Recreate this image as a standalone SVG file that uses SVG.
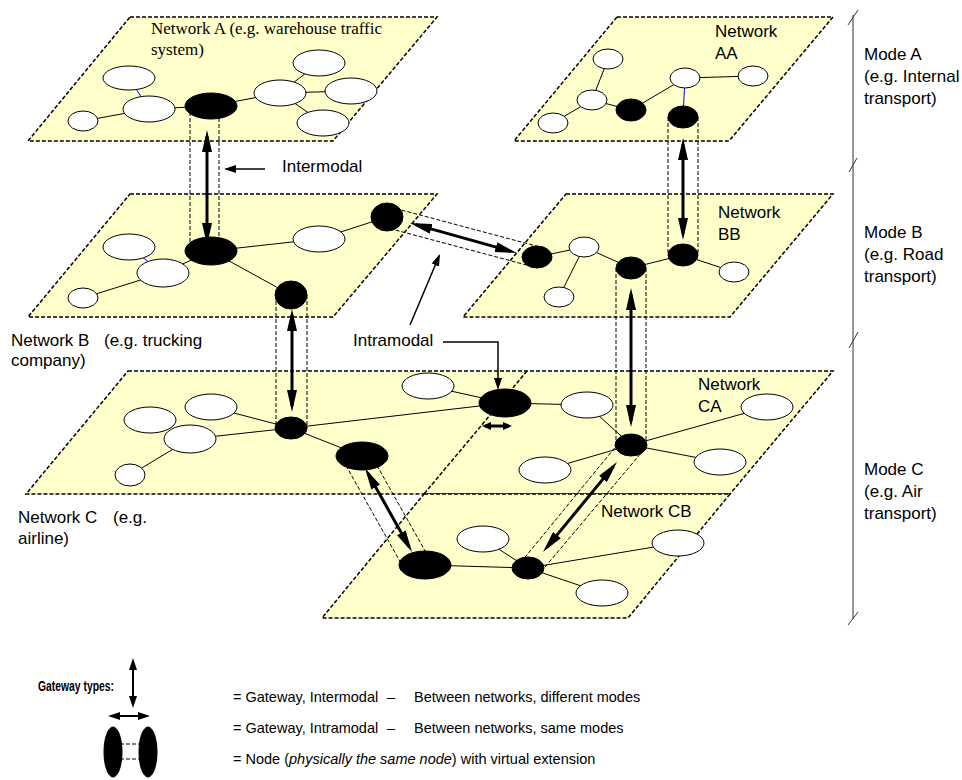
<svg xmlns="http://www.w3.org/2000/svg" width="962" height="780" viewBox="0 0 962 780">
<style>
.plane{fill:#ffffcc;stroke:#000;stroke-width:1.5;stroke-dasharray:4 2}
.dash{fill:none;stroke:#000;stroke-width:1.5;stroke-dasharray:4 2}
.edge{stroke:#000;stroke-width:1;fill:none}
.blue{stroke:#0000ff;stroke-width:1}
.wn{fill:#fff;stroke:#000;stroke-width:1}
.bn{fill:#000;stroke:#000;stroke-width:1}
.tube{stroke:#000;stroke-width:1;stroke-dasharray:4 2;fill:none}
.gw{stroke:#000;stroke-width:3;fill:none;marker-start:url(#h);marker-end:url(#h)}
.gws{stroke:#000;stroke-width:3;fill:none;marker-start:url(#hs);marker-end:url(#hs)}
.gwl{stroke:#000;stroke-width:2;fill:none;marker-start:url(#hl);marker-end:url(#hl)}
.ptr{stroke:#000;stroke-width:1.5;fill:none;marker-end:url(#t)}
.brk{stroke:#333;stroke-width:1;fill:none}
.t{font-family:"Liberation Sans",Arial,sans-serif;font-size:17px;fill:#000}
.s{font-family:"Liberation Serif","Times New Roman",serif;font-size:17px;fill:#000}
.lg{font-family:"Liberation Sans",Arial,sans-serif;font-size:14.5px;fill:#000}
.lgb{font-family:"Liberation Sans",Arial,sans-serif;font-size:15px;font-weight:bold;fill:#000}
</style>
<defs>
<marker id="h" viewBox="0 0 22 10" refX="16" refY="5" markerWidth="22" markerHeight="10" markerUnits="userSpaceOnUse" orient="auto-start-reverse"><path d="M0,0L22,5L0,10z" fill="#000"/></marker>
<marker id="hs" viewBox="0 0 9 8" refX="6" refY="4" markerWidth="9" markerHeight="8" markerUnits="userSpaceOnUse" orient="auto-start-reverse"><path d="M0,0L9,4L0,8z" fill="#000"/></marker>
<marker id="hl" viewBox="0 0 12 8" refX="9" refY="4" markerWidth="12" markerHeight="8" markerUnits="userSpaceOnUse" orient="auto-start-reverse"><path d="M0,0L12,4L0,8z" fill="#000"/></marker>
<marker id="t" viewBox="0 0 12 8" refX="10" refY="4" markerWidth="12" markerHeight="8" markerUnits="userSpaceOnUse" orient="auto"><path d="M0,0L12,4L0,8z" fill="#000"/></marker>
</defs>

<g id="planes">
<polygon id="plane-A" class="plane" points="130,17 437,17 333,141 28,141"/>
<polygon id="plane-AA" class="plane" points="617,17 833,17 729,141 514,141"/>
<polygon id="plane-B" class="plane" points="130,194 437,194 333,317 28,317"/>
<polygon id="plane-BB" class="plane" points="566,194 833,194 730,317 463,317"/>
<polygon id="plane-C" class="plane" points="128,371 833,371 730,494 26,494"/>
<polygon id="plane-CB" class="plane" points="424,494 730,494 628,618 322,618"/>
<line class="dash" x1="527" y1="371" x2="424" y2="494"/>
</g>

<g id="bracket">
<line class="brk" x1="853" y1="15" x2="853" y2="619"/>
<line class="brk" x1="848" y1="25" x2="858" y2="10"/>
<line class="brk" x1="849" y1="172" x2="857" y2="158"/>
<line class="brk" x1="849" y1="348" x2="858" y2="332"/>
<line class="brk" x1="848" y1="625" x2="858" y2="612"/>
</g>

<g id="connectors">
<line class="edge" x1="83" y1="121" x2="149" y2="109"/>
<line class="edge" x1="149" y1="109" x2="211" y2="106"/>
<line class="edge" x1="211" y1="106" x2="280" y2="93"/>
<line class="edge" x1="280" y1="93" x2="319" y2="63"/>
<line class="edge" x1="280" y1="93" x2="351" y2="91"/>
<line class="edge" x1="280" y1="93" x2="323" y2="123"/>
<line class="blue" x1="129" y1="78" x2="149" y2="109"/>
<line class="edge" x1="608" y1="59" x2="592" y2="100"/>
<line class="edge" x1="592" y1="100" x2="553" y2="123"/>
<line class="edge" x1="592" y1="100" x2="631" y2="110"/>
<line class="edge" x1="631" y1="110" x2="685" y2="78"/>
<line class="edge" x1="685" y1="78" x2="753" y2="76"/>
<line class="blue" x1="685" y1="78" x2="683" y2="117"/>
<line class="edge" x1="83" y1="298" x2="163" y2="273"/>
<line class="blue" x1="129" y1="247" x2="163" y2="273"/>
<line class="edge" x1="163" y1="273" x2="211" y2="251"/>
<line class="edge" x1="211" y1="251" x2="319" y2="239"/>
<line class="edge" x1="319" y1="239" x2="387" y2="217"/>
<line class="edge" x1="211" y1="251" x2="291" y2="295"/>
<line class="edge" x1="537" y1="257" x2="584" y2="247"/>
<line class="edge" x1="584" y1="247" x2="559" y2="297"/>
<line class="edge" x1="584" y1="247" x2="631" y2="268"/>
<line class="edge" x1="631" y1="268" x2="683" y2="255"/>
<line class="edge" x1="683" y1="255" x2="734" y2="272"/>
<line class="edge" x1="130" y1="475" x2="190" y2="439"/>
<line class="edge" x1="190" y1="439" x2="291" y2="428"/>
<line class="edge" x1="211" y1="407" x2="291" y2="428"/>
<line class="edge" x1="291" y1="428" x2="362" y2="456"/>
<line class="edge" x1="291" y1="428" x2="505" y2="403"/>
<line class="edge" x1="428" y1="386" x2="505" y2="403"/>
<line class="edge" x1="505" y1="403" x2="587" y2="405"/>
<line class="edge" x1="587" y1="405" x2="631" y2="445"/>
<line class="edge" x1="631" y1="445" x2="767" y2="407"/>
<line class="edge" x1="631" y1="445" x2="545" y2="470"/>
<line class="edge" x1="631" y1="445" x2="720" y2="462"/>
<line class="edge" x1="425" y1="565" x2="528" y2="568"/>
<line class="edge" x1="483" y1="539" x2="528" y2="568"/>
<line class="edge" x1="528" y1="568" x2="678" y2="543"/>
<line class="edge" x1="528" y1="568" x2="602" y2="593"/>

<line class="tube" x1="190" y1="106" x2="190" y2="251"/>
<line class="tube" x1="219" y1="106" x2="219" y2="251"/>
<line class="tube" x1="276" y1="295" x2="276" y2="428"/>
<line class="tube" x1="307" y1="295" x2="307" y2="428"/>
<line class="tube" x1="668" y1="117" x2="668" y2="255"/>
<line class="tube" x1="698" y1="117" x2="698" y2="255"/>
<line class="tube" x1="616" y1="268" x2="616" y2="445"/>
<line class="tube" x1="646" y1="268" x2="646" y2="445"/>
<line class="tube" x1="390" y1="207" x2="540" y2="247"/>
<line class="tube" x1="384" y1="227" x2="534" y2="267"/>
<line class="tube" x1="340" y1="455" x2="402" y2="565"/>
<line class="tube" x1="371" y1="455" x2="433" y2="565"/>
<line class="tube" x1="517" y1="567" x2="617" y2="445"/>
<line class="tube" x1="545" y1="567" x2="642" y2="452"/>

<line class="gw" x1="207" y1="136" x2="207" y2="239"/>
<line class="gw" x1="292" y1="315" x2="292" y2="406"/>
<line class="gw" x1="683" y1="144" x2="683" y2="234"/>
<line class="gw" x1="631" y1="294" x2="631" y2="421"/>
<line class="gw" x1="415.8" y1="224.6" x2="511.2" y2="251.4"/>
<line class="gw" x1="367.9" y1="473.2" x2="409.1" y2="546.8"/>
<line class="gw" x1="546.8" y1="547.4" x2="613.2" y2="466.6"/>
<line class="gws" x1="485" y1="426" x2="509" y2="426"/>

<line class="ptr" x1="265" y1="169" x2="226" y2="169"/>
<polyline class="ptr" points="443,342 498,342 498,388"/>
<line class="ptr" x1="410" y1="325" x2="439.2" y2="255.8"/>
</g>

<g id="node-A1"><ellipse class="wn" cx="129" cy="78" rx="26" ry="12"/></g>
<g id="node-A2"><ellipse class="wn" cx="149" cy="109" rx="26" ry="13"/></g>
<g id="node-A3"><ellipse class="wn" cx="83" cy="121" rx="15" ry="10"/></g>
<g id="node-A4"><ellipse class="bn" cx="211" cy="106" rx="26" ry="13"/></g>
<g id="node-A5"><ellipse class="wn" cx="280" cy="93" rx="26" ry="13"/></g>
<g id="node-A6"><ellipse class="wn" cx="319" cy="63" rx="26" ry="13"/></g>
<g id="node-A7"><ellipse class="wn" cx="351" cy="91" rx="26" ry="13"/></g>
<g id="node-A8"><ellipse class="wn" cx="323" cy="123" rx="26" ry="13"/></g>

<g id="node-AA1"><ellipse class="wn" cx="608" cy="59" rx="15" ry="10"/></g>
<g id="node-AA2"><ellipse class="wn" cx="592" cy="100" rx="15" ry="10"/></g>
<g id="node-AA3"><ellipse class="wn" cx="553" cy="123" rx="15" ry="10"/></g>
<g id="node-AA4"><ellipse class="bn" cx="631" cy="110" rx="15" ry="11"/></g>
<g id="node-AA5"><ellipse class="wn" cx="685" cy="78" rx="15" ry="10"/></g>
<g id="node-AA6"><ellipse class="wn" cx="753" cy="76" rx="15" ry="10"/></g>
<g id="node-AA7"><ellipse class="bn" cx="683" cy="117" rx="15" ry="11"/></g>

<g id="node-B1"><ellipse class="wn" cx="129" cy="247" rx="26" ry="13"/></g>
<g id="node-B2"><ellipse class="wn" cx="163" cy="273" rx="26" ry="14"/></g>
<g id="node-B3"><ellipse class="wn" cx="83" cy="298" rx="15" ry="10"/></g>
<g id="node-B4"><ellipse class="bn" cx="211" cy="251" rx="26" ry="14"/></g>
<g id="node-B5"><ellipse class="wn" cx="319" cy="239" rx="26" ry="13"/></g>
<g id="node-B6"><ellipse class="bn" cx="387" cy="217" rx="16" ry="14"/></g>
<g id="node-B7"><ellipse class="bn" cx="291" cy="295" rx="16" ry="14"/></g>

<g id="node-BB1"><ellipse class="bn" cx="537" cy="257" rx="15" ry="11"/></g>
<g id="node-BB2"><ellipse class="wn" cx="584" cy="247" rx="15" ry="10"/></g>
<g id="node-BB3"><ellipse class="wn" cx="559" cy="297" rx="15" ry="10"/></g>
<g id="node-BB4"><ellipse class="bn" cx="631" cy="268" rx="15" ry="11"/></g>
<g id="node-BB5"><ellipse class="bn" cx="683" cy="255" rx="15" ry="11"/></g>
<g id="node-BB6"><ellipse class="wn" cx="734" cy="272" rx="15" ry="10"/></g>

<g id="node-C1"><ellipse class="wn" cx="211" cy="407" rx="26" ry="13"/></g>
<g id="node-C2"><ellipse class="wn" cx="150" cy="420" rx="26" ry="13"/></g>
<g id="node-C3"><ellipse class="wn" cx="190" cy="439" rx="26" ry="14"/></g>
<g id="node-C4"><ellipse class="wn" cx="130" cy="475" rx="15" ry="11"/></g>
<g id="node-C5"><ellipse class="bn" cx="291" cy="428" rx="16" ry="11"/></g>
<g id="node-C6"><ellipse class="bn" cx="362" cy="456" rx="26" ry="14"/></g>
<g id="node-C7"><ellipse class="wn" cx="428" cy="386" rx="26" ry="13"/></g>
<g id="node-C8"><ellipse class="bn" cx="505" cy="403" rx="26" ry="14"/></g>

<g id="node-CA1"><ellipse class="wn" cx="587" cy="405" rx="26" ry="13"/></g>
<g id="node-CA2"><ellipse class="bn" cx="631" cy="445" rx="16" ry="11"/></g>
<g id="node-CA3"><ellipse class="wn" cx="767" cy="407" rx="26" ry="13"/></g>
<g id="node-CA4"><ellipse class="wn" cx="545" cy="470" rx="26" ry="13"/></g>
<g id="node-CA5"><ellipse class="wn" cx="720" cy="462" rx="26" ry="13"/></g>

<g id="node-CB1"><ellipse class="bn" cx="425" cy="565" rx="26" ry="14"/></g>
<g id="node-CB2"><ellipse class="wn" cx="483" cy="539" rx="26" ry="13"/></g>
<g id="node-CB3"><ellipse class="bn" cx="528" cy="568" rx="16" ry="11"/></g>
<g id="node-CB4"><ellipse class="wn" cx="678" cy="543" rx="26" ry="13"/></g>
<g id="node-CB5"><ellipse class="wn" cx="602" cy="593" rx="26" ry="13"/></g>

<g id="labels">
<text class="s" x="151" y="34">Network A (e.g. warehouse traffic</text>
<text class="s" x="151" y="55">system)</text>
<text class="t" x="715" y="37">Network</text>
<text class="t" x="715" y="59">AA</text>
<text class="t" x="282" y="172">Intermodal</text>
<text class="t" x="718" y="218">Network</text>
<text class="t" x="718" y="240">BB</text>
<text class="t" x="864" y="60">Mode A</text>
<text class="t" x="864" y="82">(e.g. Internal</text>
<text class="t" x="864" y="104">transport)</text>
<text class="t" x="864" y="238">Mode B</text>
<text class="t" x="864" y="260">(e.g. Road</text>
<text class="t" x="864" y="282">transport)</text>
<text class="t" x="11" y="346">Network B</text>
<text class="t" x="104" y="346">(e.g. trucking</text>
<text class="t" x="11" y="366">company)</text>
<text class="t" x="353" y="346">Intramodal</text>
<text class="t" x="698" y="390">Network</text>
<text class="t" x="698" y="412">CA</text>
<text class="t" x="864" y="475">Mode C</text>
<text class="t" x="864" y="497">(e.g. Air</text>
<text class="t" x="864" y="519">transport)</text>
<text class="t" x="18" y="523">Network C</text>
<text class="t" x="113" y="523">(e.g.</text>
<text class="t" x="18" y="544">airline)</text>
<text class="t" x="601" y="517">Network CB</text>
</g>

<g id="legend">
<text class="lgb" x="38" y="691" textLength="76" lengthAdjust="spacingAndGlyphs">Gateway types:</text>
<line class="gwl" x1="133" y1="661" x2="133" y2="705"/>
<line class="gwl" x1="111" y1="716" x2="147" y2="716"/>
<ellipse class="bn" cx="113" cy="752" rx="9" ry="25"/>
<ellipse class="bn" cx="148" cy="752" rx="9" ry="25"/>
<line class="tube" x1="120" y1="744" x2="141" y2="744"/>
<line class="tube" x1="120" y1="759" x2="141" y2="759"/>
<text class="lg" x="233" y="702">= Gateway, Intermodal<tspan x="387">–</tspan><tspan x="414">Between networks, different modes</tspan></text>
<text class="lg" x="233" y="733">= Gateway, Intramodal<tspan x="387">–</tspan><tspan x="414">Between networks, same modes</tspan></text>
<text class="lg" x="233" y="764">= Node (<tspan font-style="italic">physically the same node</tspan>) with virtual extension</text>
</g>
</svg>
